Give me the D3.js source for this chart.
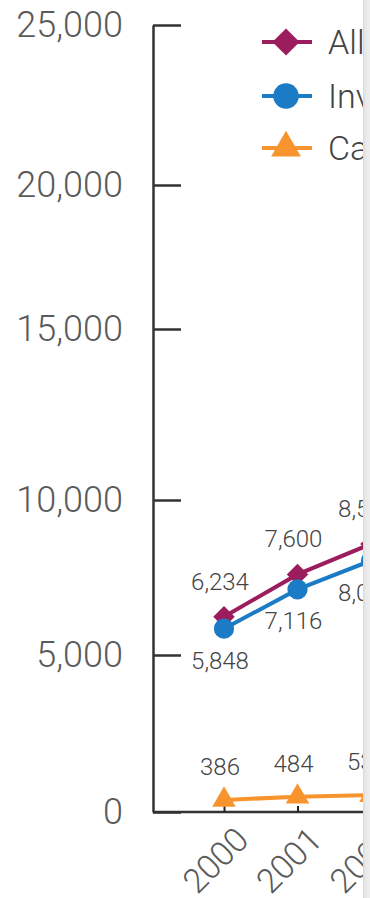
<!DOCTYPE html>
<html>
<head>
<meta charset="utf-8">
<script src="https://cdn.jsdelivr.net/npm/d3@7"></script>
<style>
  html, body { margin: 0; padding: 0; background: #fff; }
  svg { display: block; font-family: Roboto, "Liberation Sans", sans-serif; font-weight: 300; }
</style>
</head>
<body>
<svg id="chart"></svg>
<script>
// values (2002 partly hidden by the page edge)
const years = [2000, 2001, 2002];
const allValues = [6234, 7600, 8582];
const invValues = [5848, 7116, 8045];
const caValues = [386, 484, 537];
const yTickValues = [0, 5000, 10000, 15000, 20000, 25000];
const legendLabels = ['All', 'Inv', 'Ca'];

const width = 370;
const height = 898;

const svg = d3.select('#chart')
  .attr('width', width)
  .attr('height', height);

const x = d3.scaleLinear()
  .domain([2000, 2002])
  .range([224, 371]);

// the scanned axis is slightly uneven, so map each tick to where it sits
const y = d3.scaleLinear()
  .domain(yTickValues)
  .range([812, 655, 500, 329, 185, 25]);

const series = [
  { name: legendLabels[0], values: allValues, color: '#9c1d5e', symbol: d3.symbolSquare, rot: 45, size: 230, labelDy: -27 },
  { name: legendLabels[1], values: invValues, color: '#1b7bc4', symbol: d3.symbolCircle, rot: 0, size: 320, labelDy: 40 },
  { name: legendLabels[2], values: caValues, color: '#f7942e', symbol: d3.symbolTriangle, rot: 0, size: 240, labelDy: -25 }
];

svg.append('defs').append('clipPath')
  .attr('id', 'page')
  .append('rect')
  .attr('x', 0).attr('y', 0)
  .attr('width', 363).attr('height', height);

const g = svg.append('g').attr('clip-path', 'url(#page)');

// y axis, ticks pointing inward
g.append('g')
  .attr('transform', 'translate(153,0)')
  .call(d3.axisLeft(y).tickValues(yTickValues).tickFormat(d3.format(',')).tickSize(-28).tickPadding(30).tickSizeOuter(0))
  .call(a => a.select('.domain').attr('stroke', '#333').attr('stroke-width', 2.5))
  .call(a => a.selectAll('.tick line').attr('stroke', '#333').attr('stroke-width', 2.5))
  .call(a => a.selectAll('.tick text')
    .attr('fill', '#5a5a5a')
    .style('font-size', '36px')
    .style('font-family', 'Roboto, sans-serif')
    .style('font-weight', 300));

// x axis
g.append('g')
  .attr('transform', 'translate(0,812)')
  .call(d3.axisBottom(x).tickValues(years).tickFormat(d3.format('d')).tickSize(-6).tickSizeOuter(0))
  .call(a => a.select('.domain').attr('d', 'M153,0H' + width).attr('stroke', '#333').attr('stroke-width', 2.5))
  .call(a => a.selectAll('.tick line').attr('stroke', '#222').attr('stroke-width', 2))
  .call(a => a.selectAll('.tick text')
    .attr('y', 0).attr('dy', 0)
    .attr('text-anchor', 'end')
    .attr('transform', 'translate(26,30) rotate(-45)')
    .attr('fill', '#5a5a5a')
    .style('font-size', '34px')
    .style('font-family', 'Roboto, sans-serif')
    .style('font-weight', 300));

const line = d3.line()
  .x((d, i) => x(years[i]))
  .y(d => y(d));

series.forEach(s => {
  const sg = g.append('g');
  sg.append('path')
    .datum(s.values)
    .attr('d', line)
    .attr('fill', 'none')
    .attr('stroke', s.color)
    .attr('stroke-width', 4);

  sg.selectAll('path.mark')
    .data(s.values)
    .join('path')
    .attr('class', 'mark')
    .attr('d', d3.symbol().type(s.symbol).size(s.size))
    .attr('transform', (d, i) => `translate(${x(years[i])},${y(d)}) rotate(${s.rot})`)
    .attr('fill', s.color);

  sg.selectAll('text')
    .data(s.values)
    .join('text')
    .attr('x', (d, i) => x(years[i]) - 4)
    .attr('y', d => y(d) + s.labelDy)
    .attr('text-anchor', 'middle')
    .attr('fill', '#444')
    .style('font-size', '24px')
    .text(d => d3.format(',')(d));
});

// legend
const legend = g.append('g');
const rowY = [42, 96, 148];
series.forEach((s, i) => {
  const row = legend.append('g').attr('transform', `translate(0,${rowY[i]})`);
  row.append('line')
    .attr('x1', 262).attr('x2', 312)
    .attr('stroke', s.color).attr('stroke-width', 4);
  row.append('path')
    .attr('d', d3.symbol().type(s.symbol).size(s.size * 1.6))
    .attr('transform', `translate(286,0) rotate(${s.rot})`)
    .attr('fill', s.color);
  row.append('text')
    .attr('x', 328).attr('y', 12)
    .attr('fill', '#444')
    .style('font-size', '34px')
    .text(s.name);
});

// page edge on the right
const grad = svg.append('defs').append('linearGradient').attr('id', 'edge');
grad.append('stop').attr('offset', '0%').attr('stop-color', '#d6d6d6');
grad.append('stop').attr('offset', '30%').attr('stop-color', '#e8e8e8');
grad.append('stop').attr('offset', '100%').attr('stop-color', '#eeeeee');
svg.append('rect')
  .attr('x', 363).attr('y', 0)
  .attr('width', width - 363).attr('height', height)
  .attr('fill', 'url(#edge)');
</script>
</body>
</html>
